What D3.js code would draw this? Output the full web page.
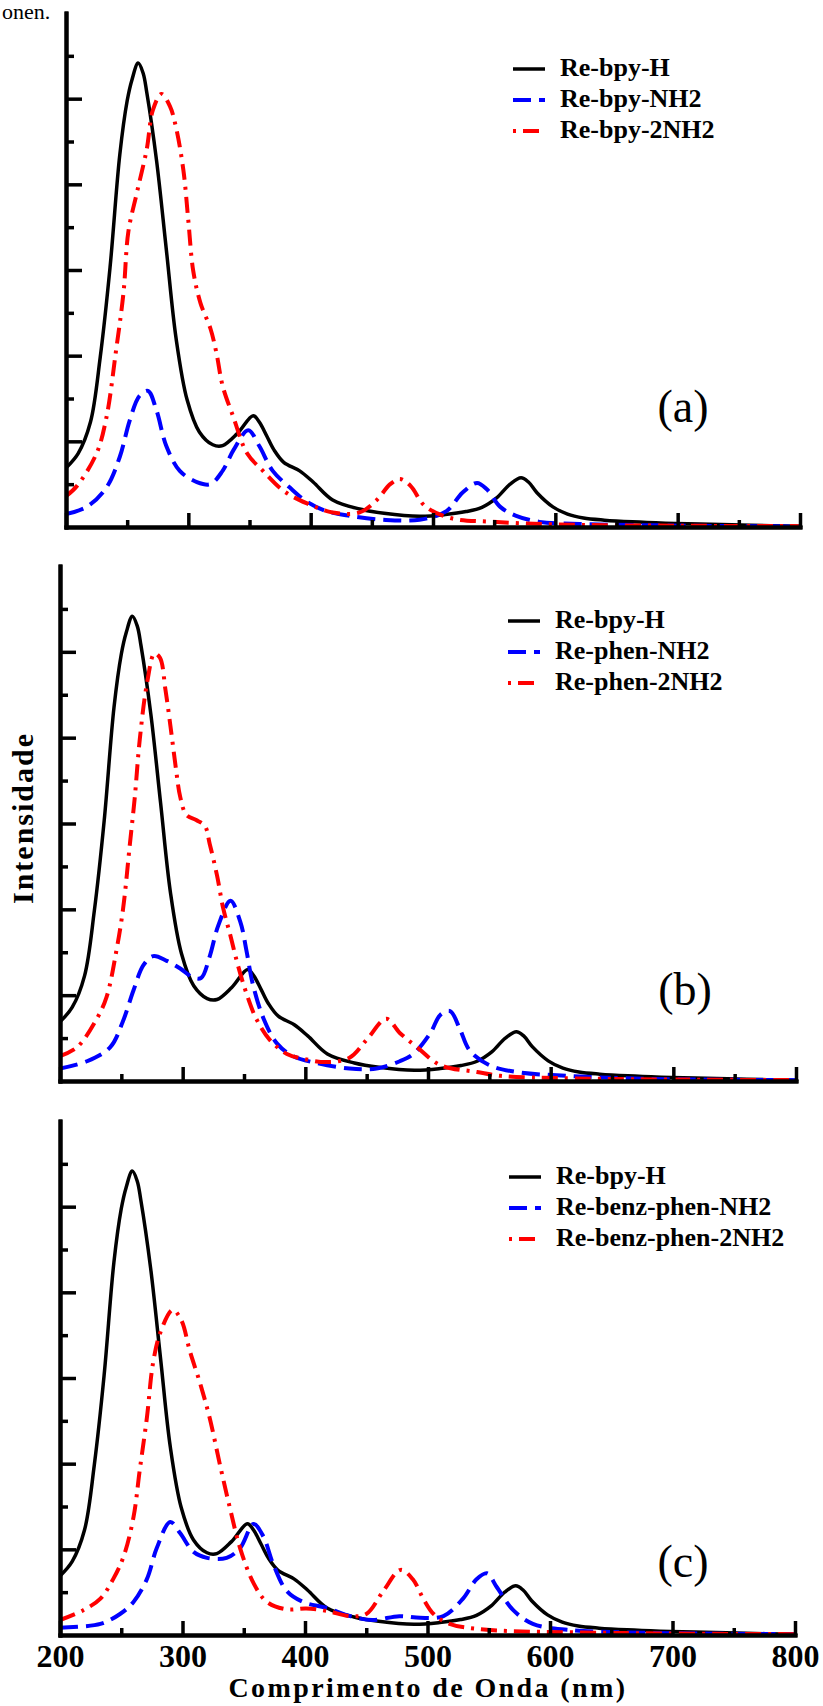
<!DOCTYPE html>
<html>
<head>
<meta charset="utf-8">
<script src="https://cdn.jsdelivr.net/npm/d3@7"></script>
<style>
  body { margin: 0; background: #fff; }
  svg { display: block; }
</style>
</head>
<body>
<svg id="chart" width="823" height="1706"></svg>
<script>
"use strict"

// wavelength ticks (nm)
var majorX = [200, 300, 400, 500, 600, 700, 800];
var minorX = [250, 350, 450, 550, 650, 750];
var majorY = [2, 4, 6, 8, 10];
var minorY = [1, 3, 5, 7, 9, 11];

// spectra: [wavelength, intensity]
var reBpyH = [[200,1.38],[210,1.72],[220,2.45],[228,3.97],[236,6.06],[244,8.7],[250,9.95],[254,10.45],[259,10.83],[263,10.6],[266,10.15],[274,8.56],[282,6.48],[290,4.4],[299,2.97],[309,2.22],[320,1.92],[328,1.9],[340,2.18],[353,2.6],[358,2.45],[364,2.13],[370,1.8],[378,1.51],[391,1.31],[402,1.05],[418,0.63],[440,0.42],[460,0.32],[489,0.25],[510,0.29],[527,0.36],[540,0.46],[552,0.68],[563,1.0],[572,1.15],[578,1.05],[585,0.8],[598,0.47],[610,0.3],[623,0.21],[640,0.16],[663,0.12],[690,0.09],[718,0.07],[760,0.04],[800,0.02]];

var reBpyNH2 = [[200,0.3],[217,0.47],[233,0.92],[244,1.64],[252,2.48],[260,3.06],[267,3.18],[274,2.72],[282,1.89],[293,1.31],[307,1.05],[318,1.0],[328,1.31],[337,1.8],[349,2.26],[358,1.89],[369,1.31],[383,0.92],[397,0.59],[413,0.37],[432,0.26],[459,0.17],[489,0.17],[511,0.37],[524,0.8],[536,1.03],[544,0.88],[555,0.47],[568,0.26],[587,0.12],[620,0.07],[680,0.04],[800,0.01]];

var reBpy2NH2 = [[200,0.72],[209,0.96],[225,1.72],[233,2.55],[241,4.14],[247,5.47],[251,6.9],[258,7.81],[266,8.82],[271,9.73],[278,10.11],[285,9.82],[290,9.32],[296,8.32],[300,7.15],[304,5.98],[310,5.22],[318,4.64],[323,4.06],[328,3.3],[337,2.55],[348,1.72],[361,1.31],[378,0.84],[397,0.55],[418,0.34],[440,0.34],[454,0.63],[465,1.0],[473,1.12],[482,0.95],[493,0.5],[514,0.21],[549,0.12],[600,0.06],[700,0.03],[800,0.02]];

var rePhenNH2 = [[200,0.29],[222,0.46],[241,0.79],[251,1.37],[260,2.12],[268,2.7],[276,2.91],[287,2.8],[298,2.62],[308,2.42],[315,2.4],[322,2.9],[329,3.62],[339,4.2],[347,3.71],[352,3.04],[357,2.28],[366,1.45],[377,0.87],[390,0.58],[409,0.42],[436,0.29],[458,0.29],[477,0.46],[488,0.63],[502,1.12],[510,1.54],[518,1.63],[526,1.21],[534,0.71],[550,0.37],[572,0.21],[613,0.12],[680,0.05],[800,0.02]];

var rePhen2NH2 = [[200,0.58],[214,0.79],[230,1.45],[238,1.96],[246,3.04],[251.5,4.03],[257,5.53],[261,6.62],[265,7.95],[271,9.28],[277,9.96],[281.5,9.86],[286,9.11],[290,8.28],[294.5,7.28],[298,6.62],[303,6.2],[311,6.08],[318,5.95],[322,5.53],[328,4.79],[333,4.03],[339,3.38],[345,2.7],[352,2.04],[360,1.45],[371,0.96],[385,0.63],[398,0.52],[417,0.44],[436,0.54],[450,0.96],[466,1.45],[477,1.12],[491,0.79],[510,0.37],[540,0.21],[559,0.12],[620,0.06],[800,0.02]];

var reBenzPhenNH2 = [[200,0.17],[233,0.26],[249,0.49],[260,0.77],[271,1.31],[279,2.03],[290,2.64],[298,2.38],[309,1.94],[320,1.8],[336,1.8],[347,2.03],[358,2.59],[366,2.3],[374,1.66],[385,1.03],[398.5,0.77],[418,0.63],[437,0.44],[455,0.35],[477,0.44],[494,0.4],[513,0.44],[529,0.85],[540,1.3],[548.5,1.44],[556.5,1.12],[570,0.58],[586,0.26],[614,0.12],[680,0.05],[800,0.02]];

var reBenzPhen2NH2 = [[200,0.35],[219,0.58],[233,0.85],[243.5,1.31],[252,1.84],[260,2.75],[265,3.83],[271,5.09],[276,6.36],[282,7.07],[292,7.59],[299,7.35],[306,6.63],[314,5.91],[322,5.09],[331,3.92],[339,2.93],[347,2.03],[358,1.21],[369,0.77],[385,0.6],[401,0.62],[418,0.56],[437,0.44],[450,0.49],[464,1.03],[478,1.52],[488,1.3],[496.5,0.85],[505,0.49],[518,0.26],[546,0.13],[650,0.05],[800,0.02]];

// legend names per panel
var namesA = ["Re-bpy-H", "Re-bpy-NH2", "Re-bpy-2NH2"];
var namesB = ["Re-bpy-H", "Re-phen-NH2", "Re-phen-2NH2"];
var namesC = ["Re-bpy-H", "Re-benz-phen-NH2", "Re-benz-phen-2NH2"];

var styles = [
    {color: "#000000", dash: null, width: 3.5},
    {color: "#0000ff", dash: "18,8", width: 4},
    {color: "#ff0000", dash: "16,7,3,7", width: 4}
];

var panels = [
    {tag: "(a)", names: namesA, series: [reBpyH, reBpyNH2, reBpy2NH2],
     left: 66, right: 800, top: 13, bottom: 527, legX: 513, legY: 69, tagX: 683, tagY: 422, labels: false},
    {tag: "(b)", names: namesB, series: [reBpyH, rePhenNH2, rePhen2NH2],
     left: 60, right: 796, top: 566, bottom: 1081, legX: 508, legY: 621, tagX: 685, tagY: 1005, labels: false},
    {tag: "(c)", names: namesC, series: [reBpyH, reBenzPhenNH2, reBenzPhen2NH2],
     left: 60, right: 795, top: 1121, bottom: 1635, legX: 509, legY: 1177, tagX: 683, tagY: 1577, labels: true}
];

var serif = "'Liberation Serif', 'Times New Roman', serif";
var svg = d3.select("#chart");

// fragment of page text at the top of the figure
svg.append("text")
    .attr("x", 2).attr("y", 19)
    .style("font-family", serif).style("font-size", "22px")
    .text("onen.");

panels.forEach(function(p, i){
    var x = d3.scaleLinear().domain([200, 800]).range([p.left, p.right]),
        y = d3.scaleLinear().domain([0, 12]).range([p.bottom, p.top]);

    var g = svg.append("g").attr("class", "panel");

    g.append("clipPath").attr("id", "clip" + i)
        .append("rect")
        .attr("x", p.left).attr("y", p.top)
        .attr("width", p.right - p.left).attr("height", p.bottom - p.top);

    var line = d3.line()
        .x(function(d){ return x(d[0]); })
        .y(function(d){ return y(d[1]); })
        .curve(d3.curveCatmullRom.alpha(0.5));

    p.series.forEach(function(s, k){
        g.append("path")
            .datum(s)
            .attr("clip-path", "url(#clip" + i + ")")
            .attr("d", line)
            .attr("fill", "none")
            .attr("stroke", styles[k].color)
            .attr("stroke-width", styles[k].width)
            .attr("stroke-dasharray", styles[k].dash)
            .attr("stroke-linejoin", "round");
    });

    // x axis: major ticks with labels, minor ticks
    var xMajor = d3.axisBottom(x).tickValues(majorX).tickSizeInner(-14).tickSizeOuter(0).tickPadding(9);
    if(!p.labels) xMajor.tickFormat("");
    var xMinor = d3.axisBottom(x).tickValues(minorX).tickSizeInner(-7).tickSizeOuter(0).tickFormat("");

    var yMajor = d3.axisLeft(y).tickValues(majorY).tickSizeInner(-16).tickSizeOuter(0).tickFormat("");
    var yMinor = d3.axisLeft(y).tickValues(minorY).tickSizeInner(-8).tickSizeOuter(0).tickFormat("");

    [xMajor, xMinor].forEach(function(ax){
        g.append("g").attr("transform", "translate(0," + p.bottom + ")").call(ax);
    });
    [yMajor, yMinor].forEach(function(ax){
        g.append("g").attr("transform", "translate(" + p.left + ",0)").call(ax);
    });

    g.selectAll(".domain")
        .attr("stroke", "#000").attr("stroke-width", 4).attr("stroke-linecap", "square");
    g.selectAll(".tick line")
        .attr("stroke", "#000").attr("stroke-width", 3.5);
    g.selectAll(".tick text")
        .attr("fill", "#000")
        .style("font-family", serif).style("font-size", "32px").style("font-weight", "bold");

    // legend
    var leg = g.append("g").attr("class", "legend");
    p.names.forEach(function(name, k){
        var ly = p.legY + k * 31;
        leg.append("line")
            .attr("x1", p.legX).attr("x2", p.legX + 32)
            .attr("y1", ly).attr("y2", ly)
            .attr("stroke", styles[k].color)
            .attr("stroke-width", styles[k].width)
            .attr("stroke-dasharray", styles[k].dash)
            .attr("stroke-dashoffset", k == 2 ? 23 : 0);
        leg.append("text")
            .attr("x", p.legX + 47).attr("y", ly + 7)
            .style("font-family", serif).style("font-size", "26px").style("font-weight", "bold")
            .text(name);
    });

    // panel tag
    g.append("text")
        .attr("x", p.tagX).attr("y", p.tagY)
        .attr("text-anchor", "middle")
        .style("font-family", serif).style("font-size", "46px")
        .text(p.tag);
});

// axis titles
svg.append("text")
    .attr("transform", "translate(33,818) rotate(-90)")
    .attr("text-anchor", "middle")
    .style("font-family", serif).style("font-size", "30px").style("font-weight", "bold")
    .style("letter-spacing", "2px")
    .text("Intensidade");

svg.append("text")
    .attr("x", 428).attr("y", 1697)
    .attr("text-anchor", "middle")
    .style("font-family", serif).style("font-size", "28px").style("font-weight", "bold")
    .style("letter-spacing", "2.4px")
    .text("Comprimento de Onda (nm)");
</script>
</body>
</html>
